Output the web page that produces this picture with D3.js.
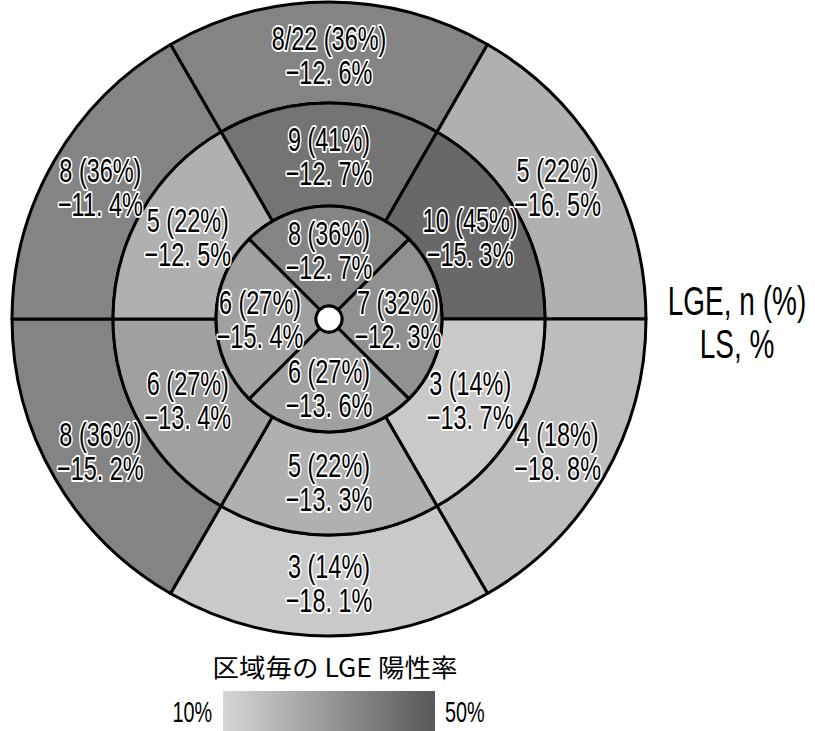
<!DOCTYPE html>
<html>
<head>
<meta charset="utf-8">
<script src="https://cdn.jsdelivr.net/npm/d3@7/dist/d3.min.js"></script>
<style>
  html, body { margin: 0; padding: 0; background: #fff; }
  svg { display: block; }
  .seg-label { font-family: "Liberation Sans", Arial, sans-serif; fill: #000;
               stroke: #fff; stroke-width: 4px; stroke-linejoin: round; paint-order: stroke; }
</style>
</head>
<body>
<svg id="chart" width="815" height="731"></svg>
<script>
// Segments listed clockwise, starting from the top (anterior) segment of each ring.
const basalCount = ["8/22", "5", "4", "3", "8", "8"];
const basalPct   = [36, 22, 18, 14, 36, 36];
const basalLS    = [-12.6, -16.5, -18.8, -18.1, -15.2, -11.4];

const midCount = ["9", "10", "3", "5", "6", "5"];
const midPct   = [41, 45, 14, 22, 27, 22];
const midLS    = [-12.7, -15.3, -13.7, -13.3, -13.4, -12.5];

const apicalCount = ["8", "7", "6", "6"];
const apicalPct   = [36, 32, 27, 27];
const apicalLS    = [-12.7, -12.3, -13.6, -15.4];

const legendTitle = "区域毎の LGE 陽性率";
const legendDomain = [10, 50];
const sideTitle = ["LGE, n (%)", "LS, %"];

// Layout
const cx = 329, cy = 319;
const rHole = 13, rApical = 113, rMid = 216, rBasal = 317;

const svg = d3.select("#chart");

const color = d3.scaleLinear().domain(legendDomain).range(["#d6d6d6", "#585858"]);

function ringData(counts, pcts, ls, n, r0, r1, labelR) {
  const step = 2 * Math.PI / n;
  return counts.map((c, i) => ({
    count: c, pct: pcts[i], ls: ls[i],
    startAngle: -step / 2 + i * step,
    endAngle: step / 2 + i * step,
    innerRadius: r0, outerRadius: r1, labelR
  }));
}

const rings = [
  ringData(basalCount, basalPct, basalLS, 6, rMid, rBasal, 264),
  ringData(midCount, midPct, midLS, 6, rApical, rMid, 163),
  ringData(apicalCount, apicalPct, apicalLS, 4, rHole, rApical, 69)
];
const segments = rings.flat();

const arc = d3.arc();
const g = svg.append("g").attr("transform", `translate(${cx},${cy})`);

g.selectAll("path.seg")
  .data(segments)
  .join("path")
  .attr("class", "seg")
  .attr("d", d => arc(d))
  .attr("fill", d => color(d.pct))
  .attr("stroke", "#000")
  .attr("stroke-width", 3)
  .attr("stroke-linejoin", "round");

g.append("circle")
  .attr("r", rHole)
  .attr("fill", "#fff")
  .attr("stroke", "#000")
  .attr("stroke-width", 3);

const fmtLS = v => "\u2212" + Math.abs(v).toFixed(1).replace(".", ". ") + "%";
const squeeze = 0.69;

const labels = g.selectAll("g.lab")
  .data(segments)
  .join("g")
  .attr("class", "lab")
  .attr("transform", d => {
    const a = (d.startAngle + d.endAngle) / 2;
    return `translate(${Math.sin(a) * d.labelR},${-Math.cos(a) * d.labelR})`;
  });

labels.append("text")
  .attr("class", "seg-label")
  .attr("transform", `translate(0,-17) scale(${squeeze},1)`)
  .attr("text-anchor", "middle")
  .attr("dominant-baseline", "central")
  .attr("font-size", 34)
  .text(d => `${d.count} (${d.pct}%)`);

labels.append("text")
  .attr("class", "seg-label")
  .attr("transform", `translate(0,17) scale(${squeeze},1)`)
  .attr("text-anchor", "middle")
  .attr("dominant-baseline", "central")
  .attr("font-size", 34)
  .text(d => fmtLS(d.ls));

// Side caption
svg.selectAll("text.side")
  .data(sideTitle)
  .join("text")
  .attr("class", "side")
  .attr("transform", (d, i) => `translate(737,${315 + i * 43}) scale(0.7,1)`)
  .attr("text-anchor", "middle")
  .attr("font-family", "Liberation Sans, Arial, sans-serif")
  .attr("font-size", 40)
  .attr("fill", "#000")
  .text(d => d);

// Colour legend
const legendX = d3.scaleLinear().domain(legendDomain).range([223, 435]);

svg.append("text")
  .attr("transform", "translate(335,677) scale(1.06,1)")
  .attr("text-anchor", "middle")
  .attr("font-family", "Noto Sans CJK JP, sans-serif")
  .attr("font-size", 25)
  .attr("fill", "#000")
  .text(legendTitle);

const grad = svg.append("defs").append("linearGradient")
  .attr("id", "lgeGrad")
  .attr("x1", "0%").attr("x2", "100%").attr("y1", "0%").attr("y2", "0%");
grad.selectAll("stop")
  .data(legendDomain)
  .join("stop")
  .attr("offset", (d, i) => i === 0 ? "0%" : "100%")
  .attr("stop-color", d => color(d));

svg.append("rect")
  .attr("x", legendX(legendDomain[0]))
  .attr("y", 691)
  .attr("width", legendX(legendDomain[1]) - legendX(legendDomain[0]))
  .attr("height", 50)
  .attr("fill", "url(#lgeGrad)");

svg.selectAll("text.lg-tick")
  .data(legendDomain)
  .join("text")
  .attr("class", "lg-tick")
  .attr("transform", (d, i) => `translate(${i === 0 ? legendX(d) - 11 : legendX(d) + 10},722) scale(0.66,1)`)
  .attr("text-anchor", (d, i) => i === 0 ? "end" : "start")
  .attr("font-family", "Liberation Sans, Arial, sans-serif")
  .attr("font-size", 30)
  .attr("fill", "#000")
  .text(d => d + "%");
</script>
</body>
</html>
